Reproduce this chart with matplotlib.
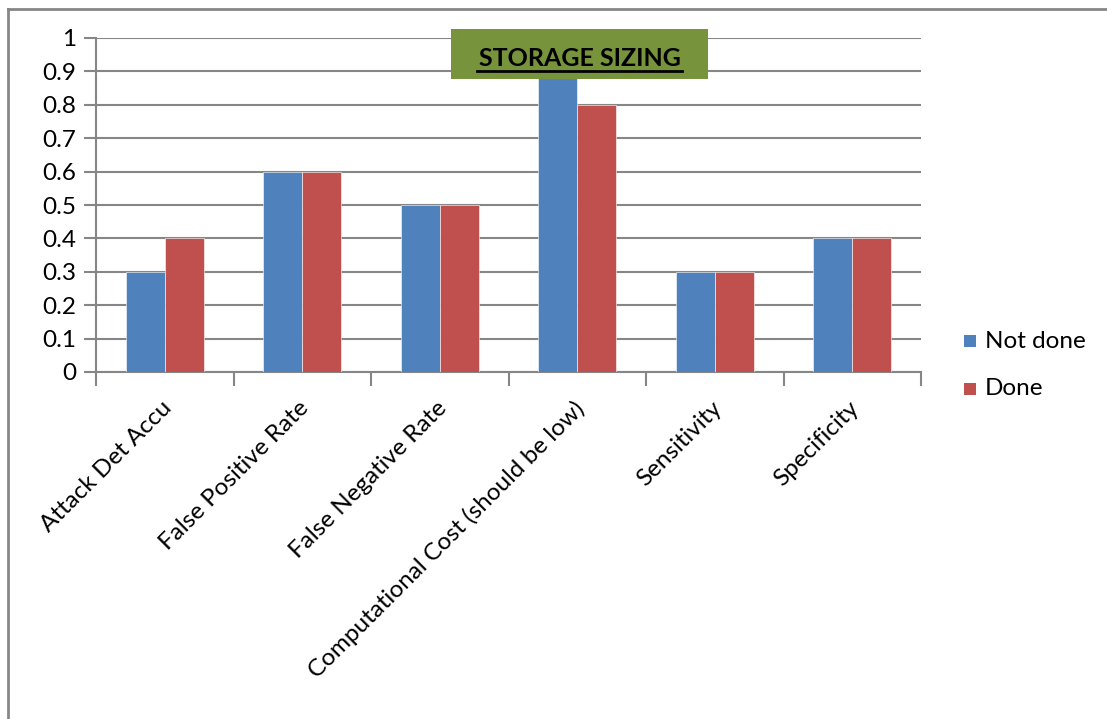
#!/usr/bin/env python3
"""Grouped bar chart: storage sizing metrics, not done vs done."""

import matplotlib.pyplot as plt
from matplotlib.patches import Rectangle
import numpy as np

categories = ['Attack Det Accu', 'False Positive Rate', 'False Negative Rate',
              'Computational Cost (should be low)', 'Sensitivity', 'Specificity']
not_done = [0.3, 0.6, 0.5, 0.9, 0.3, 0.4]
done = [0.4, 0.6, 0.5, 0.8, 0.3, 0.4]
series_names = ['Not done', 'Done']
yticks = [0, 0.1, 0.2, 0.3, 0.4, 0.5, 0.6, 0.7, 0.8, 0.9, 1]

BLUE = '#4F81BD'
RED = '#C0504D'
GRID = '#868686'
FS = 17.5

plt.rcParams['font.family'] = ['Lato', 'DejaVu Sans']

fig = plt.figure(figsize=(11.07, 7.19), dpi=100)
W, H = 1107, 719
ax = fig.add_axes([96 / W, 1 - 372 / H, (921 - 96) / W, (372 - 38) / H])

x = np.arange(len(categories))
bw = 0.284
ax.bar(x - bw / 2, not_done, bw, color=BLUE, edgecolor='white', linewidth=0.4,
       label=series_names[0], zorder=3)
ax.bar(x + bw / 2, done, bw, color=RED, edgecolor='white', linewidth=0.4,
       label=series_names[1], zorder=3)

ax.set_xlim(-0.5, len(categories) - 0.5)
ax.set_ylim(0, 1)
ax.set_yticks(yticks)
ax.set_yticklabels([f'{v:g}' for v in yticks], fontsize=FS)
ax.yaxis.grid(True, color=GRID, linewidth=1.5, zorder=0)
ax.tick_params(axis='y', length=9, width=1.5, color=GRID, pad=5)

# tick marks sit on the category boundaries
ax.set_xticks(np.arange(-0.5, len(categories)))
ax.set_xticklabels([])
ax.tick_params(axis='x', length=10, width=1.5, color=GRID)
for i, name in enumerate(categories):
    ax.text(i - 0.03, -0.075, name, rotation=45, ha='right', va='top',
            rotation_mode='anchor', fontsize=FS, clip_on=False)

for side in ['top', 'right']:
    ax.spines[side].set_visible(False)
for side in ['left', 'bottom']:
    ax.spines[side].set_color(GRID)
    ax.spines[side].set_linewidth(1.5)

# title box
fig.patches.append(Rectangle((451 / W, 1 - 79 / H), (708 - 451) / W, 50 / H,
                             transform=fig.transFigure, facecolor='#77933C',
                             edgecolor='none', zorder=5))
fig.text(579.5 / W, 1 - 58 / H, 'STORAGE SIZING', fontsize=18, fontweight='bold',
         ha='center', va='center', zorder=6)
fig.add_artist(plt.Line2D([477 / W, 682 / W], [1 - 70.5 / H, 1 - 70.5 / H],
                          color='black', linewidth=2, zorder=6))

# legend entries
for k, (name, col) in enumerate(zip(series_names, [BLUE, RED])):
    yc = 341 + 48 * k
    fig.patches.append(Rectangle((964 / W, 1 - (yc + 6) / H), 12 / W, 12 / H,
                                 transform=fig.transFigure, facecolor=col,
                                 edgecolor='none'))
    fig.text(985 / W, 1 - yc / H, name, fontsize=FS, ha='left', va='center')

# outer frame (left and top edges)
fig.add_artist(plt.Line2D([7.5 / W, 7.5 / W], [0, 1 - 9 / H], color=GRID,
                          linewidth=2))
fig.add_artist(plt.Line2D([7.5 / W, 1], [1 - 9 / H, 1 - 9 / H], color=GRID,
                          linewidth=2))

fig.savefig('out.png', dpi=100)
